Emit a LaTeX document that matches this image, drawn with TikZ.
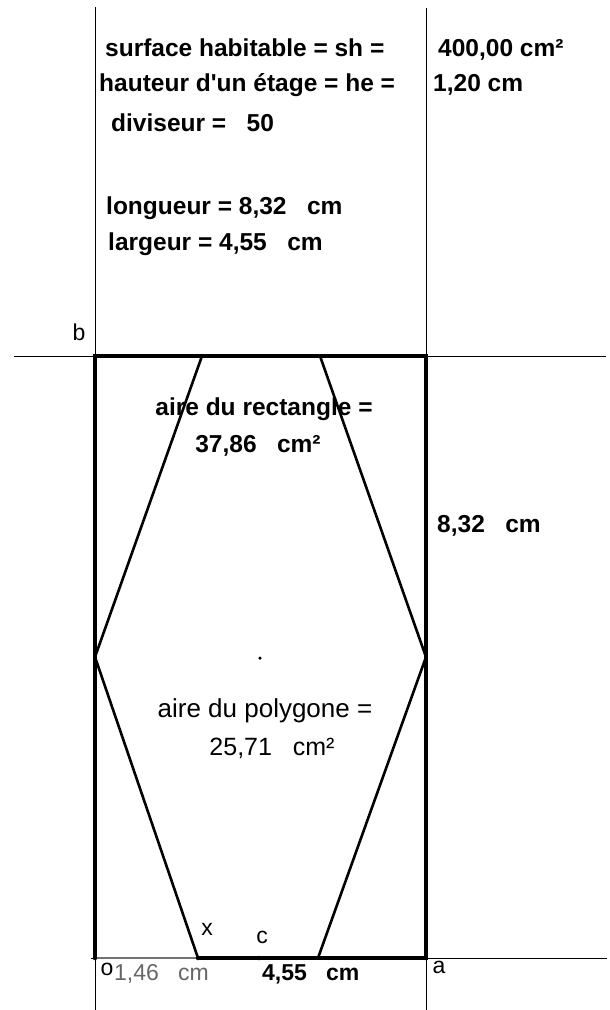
\documentclass[tikz,border=0pt]{standalone}
\usepackage{fontspec}
\setmainfont{Liberation Sans}
\usetikzlibrary{positioning}

\begin{document}
\begin{tikzpicture}[x=1bp, y=-1bp,
  axe/.style={line width=1bp},
  cote/.style={line width=4bp},
  poly/.style={line width=2.6bp},
  txt/.style={inner sep=0pt, anchor=base west, font=\fontsize{24.5bp}{28bp}\selectfont\bfseries},
  txtc/.style={inner sep=0pt, anchor=base, font=\fontsize{24.5bp}{28bp}\selectfont\bfseries},
  fin/.style={inner sep=0pt, anchor=base, font=\fontsize{23bp}{26bp}\selectfont},
  pt/.style={circle, fill, inner sep=0pt, minimum size=4.5bp}]
  \useasboundingbox (0,0) rectangle (610,1010);

  % points of the figure
  \coordinate (o) at (95,958);
  \coordinate (a) at (426,958);
  \coordinate (b) at (95,356);
  \coordinate (d) at (426,356);
  \coordinate (x) at (198,958);
  \coordinate (c) at (259,958);
  \coordinate (q) at (318,958);
  \coordinate (p1) at (202,356);
  \coordinate (p2) at (320,356);
  \coordinate (ml) at (95,657);
  \coordinate (mr) at (426,657);
  \coordinate (m) at (260,658);

  % ends of the axes
  \coordinate (oy1) at (95,7);
  \coordinate (oy2) at (95,1010);
  \coordinate (ay1) at (426,8);
  \coordinate (ay2) at (426,1010);
  \coordinate (bx1) at (14,356);
  \coordinate (bx2) at (606,356);
  \coordinate (ox1) at (91,958);
  \coordinate (ox2) at (607,958);

  \draw[axe] (oy1) -- (oy2);
  \draw[axe] (ay1) -- (ay2);
  \draw[axe] (bx1) -- (bx2);
  \draw[axe] (ox1) -- (ox2);

  % rectangle and polygon
  \draw[line width=2bp, black!55] (o) -- (x);
  \draw[cote] (x) -- (a) -- (d) -- (b) -- (o);
  \draw[poly] (p1) -- (ml) -- (x);
  \draw[poly] (p2) -- (mr) -- (q);

  \foreach \p in {o,a,b,x,c} \node[pt] at (\p) {};
  \node[pt, minimum size=3.5bp] (centre) at (m) {};

  % data
  \node[txt] (sh) at (105,56) {surface habitable = sh =};
  \node[txt] (shv) at (438,56) {400,00 cm²};
  \node[txt] (he) at (99,91) {hauteur d\textquotesingle un étage = he =};
  \node[txt] (hev) at (433,91) {1,20 cm};
  \node[txt] (div) at (111,131) {diviseur =\ \ \ 50};
  \node[txt] (lon) at (106,214) {longueur = 8,32\ \ \ cm};
  \node[txt] (lar) at (108,250) {largeur = 4,55\ \ \ cm};

  \node[txtc] (airer) at (264,415) {aire du rectangle =};
  \node[txtc] (vr) at (258,452) {37,86\ \ \ cm²};
  \node[txt] (long) at (437,532) {8,32\ \ \ cm};
  \node[fin, font=\fontsize{26bp}{29bp}\selectfont] (airep) at (265,717) {aire du polygone =};
  \node[fin, font=\fontsize{25bp}{28bp}\selectfont] (vp) at (272,755) {25,71\ \ \ cm²};
  \node[fin, anchor=base west, text=black!60] (ox) at (114,980) {1,46\ \ \ cm};
  \node[txt, font=\fontsize{23bp}{26bp}\selectfont\bfseries] (larg) at (262,980) {4,55\ \ \ cm};

  % names of the points
  \node[fin] (lb) at (79,340) {b};
  \node[fin] (lo) at (107,975) {o};
  \node[fin] (la) at (439,973) {a};
  \node[fin] (lx) at (207,935) {x};
  \node[fin] (lc) at (262,943) {c};
\end{tikzpicture}
\end{document}
